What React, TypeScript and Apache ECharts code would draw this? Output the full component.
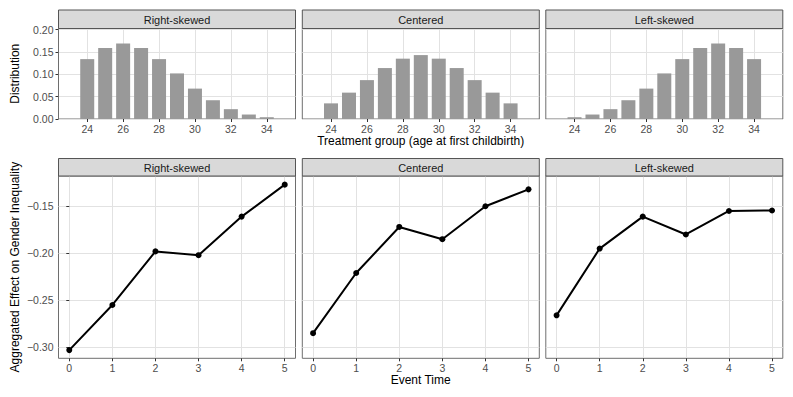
import React, { useEffect, useRef } from "react";
import * as echarts from "echarts";

// ---- data ----
const panelNames = ["Right-skewed", "Centered", "Left-skewed"];
const ageGroups = [24, 25, 26, 27, 28, 29, 30, 31, 32, 33, 34];
const distRight = [0.134, 0.159, 0.169, 0.159, 0.134, 0.102, 0.068, 0.042, 0.022, 0.010, 0.004];
const distCentered = [0.035, 0.059, 0.087, 0.114, 0.135, 0.143, 0.135, 0.114, 0.087, 0.059, 0.035];
const distLeft = [0.004, 0.010, 0.022, 0.042, 0.068, 0.102, 0.134, 0.159, 0.169, 0.159, 0.134];
const eventTime = [0, 1, 2, 3, 4, 5];
const effectRight = [-0.303, -0.255, -0.198, -0.202, -0.161, -0.127];
const effectCentered = [-0.285, -0.221, -0.172, -0.185, -0.150, -0.132];
const effectLeft = [-0.266, -0.195, -0.161, -0.180, -0.155, -0.1545];
const ageTicks = [24, 26, 28, 30, 32, 34];
const distTicks = [0, 0.05, 0.1, 0.15, 0.2];
const eventTicks = [0, 1, 2, 3, 4, 5];
const effectTicks = [-0.3, -0.25, -0.2, -0.15];

const distSeries = [distRight, distCentered, distLeft];
const effectSeries = [effectRight, effectCentered, effectLeft];

// ---- layout ----
const FONT = '"Liberation Sans", Arial, Helvetica, sans-serif';
const panelLefts = [58.5, 302.3, 545.8];
const panelWidth = 237;
const topStripY = 10;
const topGridTop = 28.5;
const topGridBottom = 119;
const botStripY = 158.5;
const botGridTop = 176;
const botGridBottom = 358.3;

const inList = (list: number[], v: number) => list.some((t) => Math.abs(t - v) < 1e-9);
const fmtDec = (v: number) => (v < 0 ? "\u2212" + Math.abs(v).toFixed(2) : v.toFixed(2));

export default function App() {
  const ref = useRef<HTMLDivElement>(null);

  useEffect(() => {
    if (!ref.current) return;
    const chart = echarts.init(ref.current, null, { renderer: "svg" });

    const grids: any[] = [];
    const xAxes: any[] = [];
    const yAxes: any[] = [];
    const series: any[] = [];
    const graphics: any[] = [];

    const tickStyle = { show: true, length: 3, lineStyle: { color: "#333333", width: 1 } };
    const splitStyle = { show: true, lineStyle: { color: "#e2e2e2", width: 1 } };
    const labelBase = { color: "#4d4d4d", fontSize: 10.5, fontFamily: FONT };

    // top row (distribution bars)
    for (let i = 0; i < 3; i++) {
      grids.push({
        left: panelLefts[i],
        top: topGridTop,
        width: panelWidth,
        height: topGridBottom - topGridTop,
        show: true,
        borderColor: "#6e6e6e",
        borderWidth: 1,
        backgroundColor: "#ffffff",
        outerBoundsMode: "none",
      });
      xAxes.push({
        type: "value",
        gridIndex: i,
        min: 22.4,
        max: 35.6,
        splitNumber: 6,
        axisLine: { show: false },
        axisTick: { ...tickStyle, customValues: ageTicks },
        axisLabel: {
          ...labelBase,
          margin: 4,
          customValues: ageTicks,
          formatter: (v: number) => (inList(ageTicks, v) ? String(v) : ""),
        },
        splitLine: splitStyle,
      });
      yAxes.push({
        type: "value",
        gridIndex: i,
        min: 0,
        max: 0.2025,
        splitNumber: 4,
        axisLine: { show: false },
        axisTick: i === 0 ? { ...tickStyle, customValues: distTicks } : { show: false, customValues: distTicks },
        axisLabel: {
          ...labelBase,
          show: i === 0,
          margin: 5,
          customValues: distTicks,
          formatter: (v: number) => (inList(distTicks, v) ? fmtDec(v) : ""),
        },
        splitLine: splitStyle,
      });
      series.push({
        type: "bar",
        xAxisIndex: i,
        yAxisIndex: i,
        barWidth: 14,
        itemStyle: { color: "#999999" },
        data: ageGroups.map((a, j) => [a, distSeries[i][j]]),
      });
      graphics.push({
        type: "rect",
        shape: { x: panelLefts[i], y: topStripY, width: panelWidth, height: topGridTop - topStripY },
        style: { fill: "#d9d9d9", stroke: "#555555", lineWidth: 1 },
        z: 100,
      });
      graphics.push({
        type: "text",
        x: panelLefts[i] + panelWidth / 2,
        y: (topStripY + topGridTop) / 2 + 0.5,
        style: {
          text: panelNames[i],
          fill: "#1a1a1a",
          font: `11px ${FONT}`,
          textAlign: "center",
          textVerticalAlign: "middle",
        },
        z: 101,
      });
    }

    // bottom row (effect lines)
    for (let i = 0; i < 3; i++) {
      const g = 3 + i;
      grids.push({
        left: panelLefts[i],
        top: botGridTop,
        width: panelWidth,
        height: botGridBottom - botGridTop,
        show: true,
        borderColor: "#6e6e6e",
        borderWidth: 1,
        backgroundColor: "#ffffff",
        outerBoundsMode: "none",
      });
      xAxes.push({
        type: "value",
        gridIndex: g,
        min: -0.25,
        max: 5.25,
        splitNumber: 5,
        axisLine: { show: false },
        axisTick: { ...tickStyle, customValues: eventTicks },
        axisLabel: {
          ...labelBase,
          margin: 4,
          customValues: eventTicks,
          formatter: (v: number) => (inList(eventTicks, v) ? String(v) : ""),
        },
        splitLine: splitStyle,
      });
      yAxes.push({
        type: "value",
        gridIndex: g,
        min: -0.3117,
        max: -0.1178,
        splitNumber: 4,
        axisLine: { show: false },
        axisTick: i === 0 ? { ...tickStyle, customValues: effectTicks } : { show: false, customValues: effectTicks },
        axisLabel: {
          ...labelBase,
          show: i === 0,
          margin: 5,
          customValues: effectTicks,
          formatter: (v: number) => (inList(effectTicks, v) ? fmtDec(v) : ""),
        },
        splitLine: splitStyle,
      });
      series.push({
        type: "line",
        xAxisIndex: g,
        yAxisIndex: g,
        symbol: "circle",
        symbolSize: 6,
        lineStyle: { color: "#000000", width: 2 },
        itemStyle: { color: "#000000" },
        data: eventTime.map((t, j) => [t, effectSeries[i][j]]),
      });
      graphics.push({
        type: "rect",
        shape: { x: panelLefts[i], y: botStripY, width: panelWidth, height: botGridTop - botStripY },
        style: { fill: "#d9d9d9", stroke: "#555555", lineWidth: 1 },
        z: 100,
      });
      graphics.push({
        type: "text",
        x: panelLefts[i] + panelWidth / 2,
        y: (botStripY + botGridTop) / 2 + 0.5,
        style: {
          text: panelNames[i],
          fill: "#1a1a1a",
          font: `11px ${FONT}`,
          textAlign: "center",
          textVerticalAlign: "middle",
        },
        z: 101,
      });
    }

    const midX = (panelLefts[0] + panelLefts[2] + panelWidth) / 2;
    graphics.push(
      {
        type: "text",
        x: 15,
        y: (topGridTop + topGridBottom) / 2,
        rotation: Math.PI / 2,
        style: { text: "Distribution", fill: "#000000", font: `12px ${FONT}`, textAlign: "center", textVerticalAlign: "middle" },
      },
      {
        type: "text",
        x: 15,
        y: (botGridTop + botGridBottom) / 2,
        rotation: Math.PI / 2,
        style: {
          text: "Aggregated Effect on Gender Inequality",
          fill: "#000000",
          font: `12px ${FONT}`,
          textAlign: "center",
          textVerticalAlign: "middle",
        },
      },
      {
        type: "text",
        x: midX,
        y: 141,
        style: {
          text: "Treatment group (age at first childbirth)",
          fill: "#000000",
          font: `12px ${FONT}`,
          textAlign: "center",
          textVerticalAlign: "middle",
        },
      },
      {
        type: "text",
        x: midX,
        y: 380,
        style: { text: "Event Time", fill: "#000000", font: `12px ${FONT}`, textAlign: "center", textVerticalAlign: "middle" },
      }
    );

    chart.setOption({
      animation: false,
      backgroundColor: "#ffffff",
      textStyle: { fontFamily: FONT },
      grid: grids,
      xAxis: xAxes,
      yAxis: yAxes,
      series,
      graphic: graphics,
    });

    return () => chart.dispose();
  }, []);

  return (
    <div
      ref={ref}
      style={{ position: "absolute", left: 0, top: 0, width: 793, height: 397, background: "#ffffff" }}
    />
  );
}
